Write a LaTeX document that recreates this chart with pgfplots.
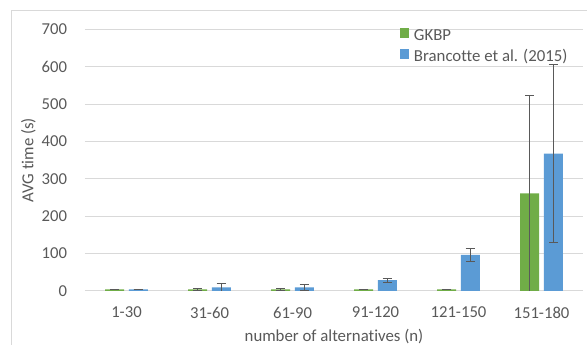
\documentclass[border=0pt]{standalone}
\usepackage{fontspec}
\setmainfont[Ligatures=NoCommon]{Carlito}
\usepackage{pgfplots}
\pgfplotsset{compat=1.18}
\definecolor{gk}{HTML}{70AD47}
\definecolor{br}{HTML}{5B9BD5}
\definecolor{txt}{HTML}{595959}
\definecolor{gridc}{HTML}{D9D9D9}
\definecolor{errc}{HTML}{595959}
\begin{document}
\fontsize{12.5}{15}\selectfont
\begin{tikzpicture}
\useasboundingbox (0,0) rectangle (440.25pt,258.75pt);
\draw[gridc, line width=0.75pt] (8.25pt,-5pt) -- (8.25pt,250.5pt) -- (445pt,250.5pt);
\begin{axis}[
  at={(63.75pt,40.5pt)}, anchor=south west,
  scale only axis, width=373.5pt, height=196.125pt,
  ybar=3.4pt, bar width=14.25pt,
  xmin=-0.5, xmax=5.5, ymin=0, ymax=700,
  xtick={0,1,2,3,4,5},
  xticklabels={1-30,31-60,61-90,91-120,121-150,151-180},
  ytick={0,100,...,700},
  /pgf/number format/assume math mode=true,
  axis line style={draw=none},
  major tick length=0pt,
  tick style={draw=none},
  ymajorgrids,
  grid style={gridc, line width=0.75pt},
  ticklabel style={font=\fontsize{12.5}{15}\selectfont, text=txt},
  yticklabel style={anchor=east, inner sep=0pt, xshift=-13.3pt},
  xticklabel style={anchor=north, inner sep=0pt, yshift=-11.8pt},
  xlabel={number of alternatives (n)},
  ylabel={AVG time (s)},
  label style={font=\fontsize{12.6}{15}\selectfont, text=txt},
  xlabel style={at={(axis description cs:0.5,0)}, anchor=north, inner sep=0pt, yshift=-28.5pt},
  ylabel style={at={(axis description cs:-0.1138,0.5)}, anchor=center, inner sep=0pt},
  legend style={at={(rel axis cs:0.6325,1.0134)}, anchor=north west,
    draw=none, fill=none, inner sep=0pt, outer sep=0pt, row sep=0pt,
    font=\fontsize{12.6}{15}\selectfont, text=txt,
    nodes={inner sep=0pt, text height=10.5pt, text depth=5.25pt},
    /tikz/every odd column/.style={column sep=3.5pt}},
  legend cell align=left,
  legend image code/.code={\fill[#1,/tikz/.cd,draw=none] (0pt,-0.75pt) rectangle (7pt,6.25pt);},
  error bars/y dir=both,
  error bars/y explicit,
  error bars/error bar style={errc, line width=0.75pt},
  error bars/error mark options={errc, rotate=90, mark size=3.4pt, line width=0.75pt},
]
\addplot[fill=gk, draw=none] coordinates {
  (0,4) +- (0,0)
  (1,4) +- (0,1.5)
  (2,4) +- (0,1.5)
  (3,4) +- (0,0.5)
  (4,4) +- (0,0.5)
  (5,261) +- (0,262)
};
\addplot[fill=br, draw=none] coordinates {
  (0,4) +- (0,0)
  (1,10) +- (0,11)
  (2,10) +- (0,8)
  (3,29) +- (0,5)
  (4,97) +- (0,18)
  (5,368) +- (0,238)
};
\legend{GKBP, Brancotte et al. (2015)}
\end{axis}
\end{tikzpicture}
\end{document}
